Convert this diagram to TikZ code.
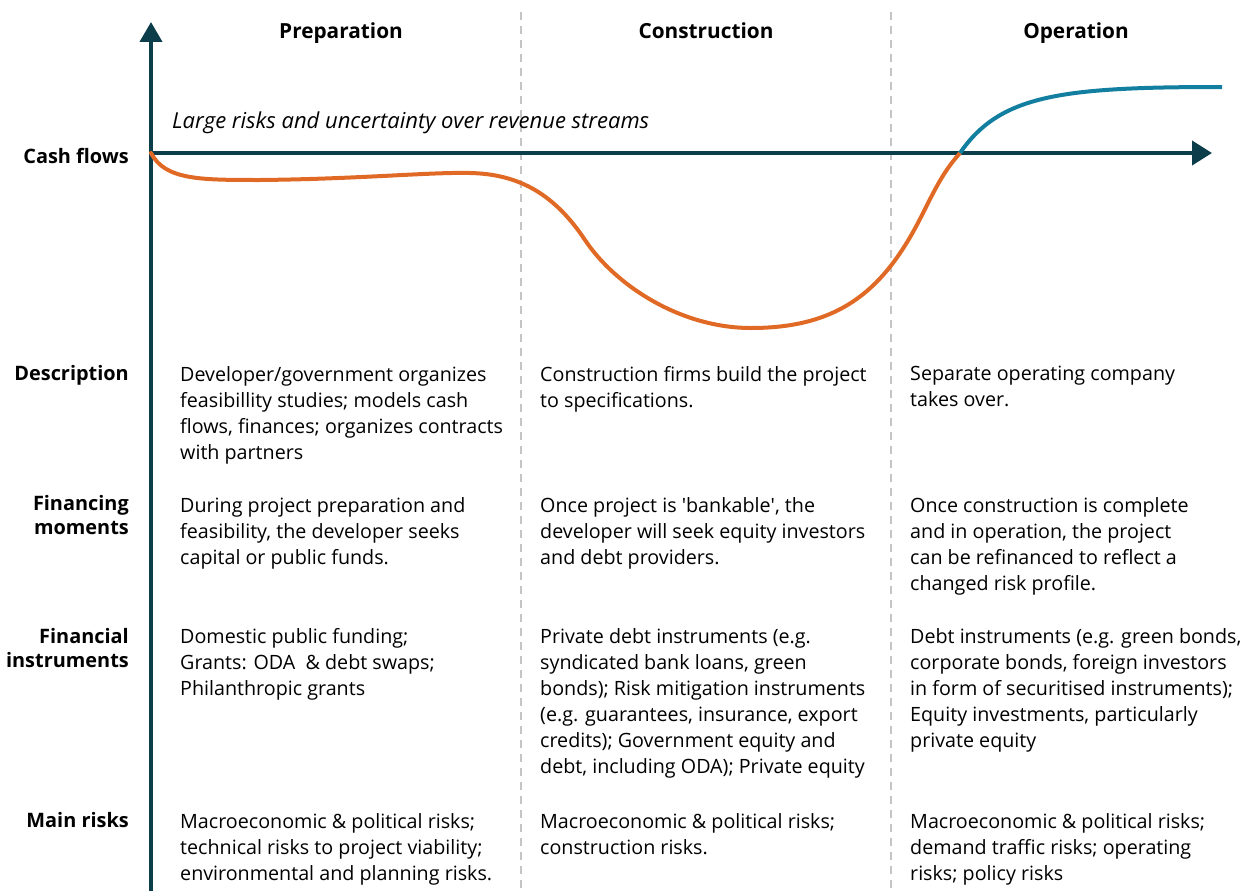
\documentclass[tikz,border=0pt]{standalone}
\usepackage{fontspec}
\setmainfont{Open Sans}
\usepackage{tikz}
\usetikzlibrary{arrows.meta}
\definecolor{axisteal}{HTML}{0B3D4A}
\definecolor{costorange}{HTML}{E06A25}
\definecolor{revblue}{HTML}{137FA0}
\definecolor{phasegrey}{HTML}{C4C4C4}

\begin{document}
\begin{tikzpicture}[x=1pt, y=-1pt]
    \tikzstyle axisline=[line width=4pt,axisteal]
    \tikzstyle phaseline=[line width=1.5pt,phasegrey,dash pattern=on 8pt off 6pt]
    \tikzstyle phase=[anchor=base,inner sep=0pt,font=\fontsize{20.8}{24}\selectfont\bfseries]
    \tikzstyle rowlabel=[anchor=north east,inner sep=0pt,align=right,font=\fontsize{19.9}{24}\selectfont\bfseries]
    \tikzstyle cell=[anchor=north west,inner sep=0pt,align=left,font=\fontsize{19.7}{26}\selectfont]
    \useasboundingbox (0,0) rectangle (1244,891);
    % phase borders
    \coordinate (top1) at (521,12);
    \coordinate (bot1) at (521,891);
    \coordinate (top2) at (891,12);
    \coordinate (bot2) at (891,891);
    \draw[phaseline] (top1) -- (bot1);
    \draw[phaseline] (top2) -- (bot2);
    \node[phase] (prep) at (341,38) {Preparation};
    \node[phase] (constr) at (706,38) {Construction};
    \node[phase] (oper) at (1076,38) {Operation};
    % axes
    \coordinate (origin) at (151,153);
    \coordinate (ytop) at (151,22);
    \coordinate (ybot) at (151,891);
    \coordinate (xend) at (1212,153);
    \draw[axisline,-{Triangle[width=22pt,length=20pt]}] (ybot) -- (ytop);
    \draw[axisline,-{Triangle[width=24pt,length=20pt]}] (origin) -- (xend);
    \node[anchor=west,inner sep=0pt,font=\fontsize{22}{24}\selectfont\itshape] (risk) at (172,123)
    {Large risks and uncertainty over revenue streams};
    % cash flow curve
    \draw[line width=4pt,costorange,line cap=round] (origin)
      .. controls (165,180) and (200,180) .. (260,180)
      .. controls (360,179) and (430,172) .. (470,173)
      .. controls (520,174) and (555,195) .. (585,240)
      .. controls (615,285) and (680,328) .. (751,328)
      .. controls (840,328) and (885,290) .. (923,213)
      .. controls (938,183) and (945,170) .. (960,153) coordinate (breakeven);
    \draw[line width=4pt,revblue] (breakeven)
      .. controls (1000,95) and (1060,87) .. (1222,87);
    % row labels
    \node[rowlabel] (cash) at (129,148) {Cash flows};
    \node[rowlabel] (desc) at (129,365) {Description};
    \node[rowlabel] (fmom) at (129,495) {Financing\\moments};
    \node[rowlabel] (finst) at (129,628) {Financial\\instruments};
    \node[rowlabel] (risks) at (129,812) {Main risks};
    % preparation
    \node[cell] (prepdesc) at (180,366) {Developer/government organizes\\feasibillity studies; models cash\\flows, finances; organizes contracts\\with partners};
    \node[cell] (prepfin) at (180,497) {During project preparation and\\feasibility, the developer seeks\\capital or public funds.};
    \node[cell] (prepinst) at (180,628) {Domestic public funding;\\Grants: ODA\ \ \& debt swaps;\\Philanthropic grants};
    \node[cell] (preprisk) at (180,813) {Macroeconomic \& political risks;\\technical risks to project viability;\\environmental and planning risks.};
    % construction
    \node[cell] (condesc) at (540,366) {Construction firms build the project\\to specifications.};
    \node[cell] (confin) at (540,497) {Once project is \textquotesingle bankable\textquotesingle, the\\developer will seek equity investors\\and debt providers.};
    \node[cell] (coninst) at (540,628) {Private debt instruments (e.g.\\syndicated bank loans, green\\bonds); Risk mitigation instruments\\(e.g. guarantees, insurance, export\\credits); Government equity and\\debt, including ODA); Private equity};
    \node[cell] (conrisk) at (540,813) {Macroeconomic \& political risks;\\construction risks.};
    % operation
    \node[cell] (opdesc) at (910,366) {Separate operating company\\takes over.};
    \node[cell] (opfin) at (910,497) {Once construction is complete\\and in operation, the project\\can be refinanced to reflect a\\changed risk profile.};
    \node[cell] (opinst) at (910,628) {Debt instruments (e.g. green bonds,\\corporate bonds, foreign investors\\in form of securitised instruments);\\Equity investments, particularly\\private equity};
    \node[cell] (oprisk) at (910,813) {Macroeconomic \& political risks;\\demand traffic risks; operating\\risks; policy risks};
\end{tikzpicture}
\end{document}
